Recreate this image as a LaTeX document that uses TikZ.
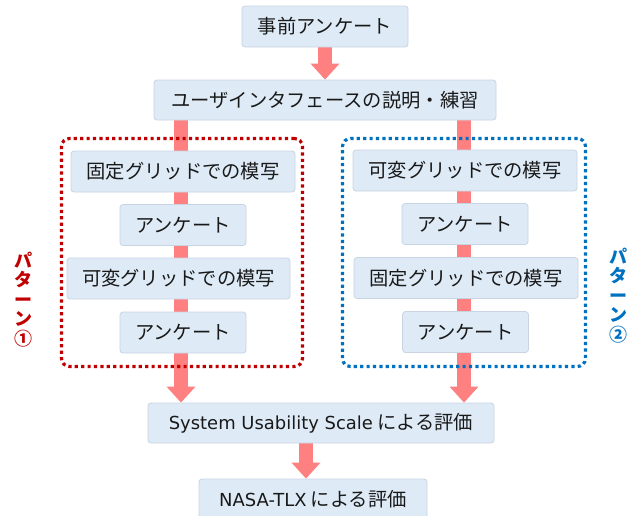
\documentclass[tikz,border=0pt]{standalone}
\usepackage{fontspec}
\setmainfont{Noto Sans CJK JP}
\newfontfamily\latinfont[Scale=0.93]{DejaVu Sans}
\usepackage{xcolor}
\usepackage{tikz}
\usetikzlibrary{arrows.meta, backgrounds}

\definecolor{boxfill}{RGB}{222,235,247}
\definecolor{boxline}{RGB}{200,212,226}
\definecolor{flowpink}{RGB}{255,128,128}
\definecolor{patred}{RGB}{192,0,0}
\definecolor{patblue}{RGB}{0,112,192}

\begin{document}
\begin{tikzpicture}[
    x=1pt, y=-1pt,
    stepbox/.style={rectangle, draw=boxline, line width=0.8pt, fill=boxfill, rounded corners=3pt, minimum height=41pt, inner sep=0pt, text=black!90, font=\fontsize{19.3}{23}\selectfont},
    flowarrow/.style={draw=flowpink, line width=14pt, -{Triangle[width=28pt, length=16pt]}},
    groupframe/.style={rectangle, rounded corners=8pt, line width=3.2pt, dash pattern=on 3.2pt off 3.2pt},
    patlabel/.style={align=center, inner sep=0pt, font=\fontsize{18}{19.5}\selectfont\bfseries}
]
\useasboundingbox (0,0) rectangle (636,515);

% Intro steps
\node[stepbox, minimum width=166pt] (pre) at (325,26.5) {事前アンケート};
\node[stepbox, minimum width=342pt, minimum height=40pt] (intro) at (325,100) {ユーザインタフェースの説明・練習};

% Pattern 1
\node[stepbox, minimum width=224pt] (fixA) at (183,171.5) {固定グリッドでの模写};
\node[stepbox, minimum width=126pt] (surveyA1) at (183,225) {アンケート};
\node[stepbox, minimum width=223pt] (varA) at (178.5,278.5) {可変グリッドでの模写};
\node[stepbox, minimum width=126pt] (surveyA2) at (183,332.5) {アンケート};

% Pattern 2
\node[stepbox, minimum width=224pt] (varB) at (465,170.5) {可変グリッドでの模写};
\node[stepbox, minimum width=126pt] (surveyB1) at (465,224) {アンケート};
\node[stepbox, minimum width=224pt] (fixB) at (466,278) {固定グリッドでの模写};
\node[stepbox, minimum width=126pt] (surveyB2) at (465.5,332) {アンケート};

% Evaluation
\node[stepbox, minimum width=346pt, minimum height=40pt] (sus) at (321,423) {{\latinfont System Usability Scale} による評価};
\node[stepbox, minimum width=228pt, minimum height=40pt] (nasa) at (313,499) {{\latinfont NASA-TLX} による評価};

% Grouping
\node[groupframe, draw=patred, minimum width=241pt, minimum height=228pt] (frameA) at (182,252.5) {};
\node[groupframe, draw=patblue, minimum width=243pt, minimum height=228pt] (frameB) at (464,252.5) {};
\node[patlabel, text=patred] (labelA) at (23,299.5) {パ\\タ\\ー\\ン\\①};
\node[patlabel, text=patblue] (labelB) at (618,295.5) {パ\\タ\\ー\\ン\\②};

% Arrows
\coordinate (colA) at (181,0);
\coordinate (colB) at (464,0);
\coordinate (colC) at (306,0);
\begin{scope}[on background layer]
\draw[flowarrow] (pre) -- (intro);
\draw[flowarrow] (intro.south -| colA) -- (sus.north -| colA);
\draw[flowarrow] (intro.south -| colB) -- (sus.north -| colB);
\draw[flowarrow] (sus.south -| colC) -- (nasa.north -| colC);
\end{scope}

\end{tikzpicture}
\end{document}
